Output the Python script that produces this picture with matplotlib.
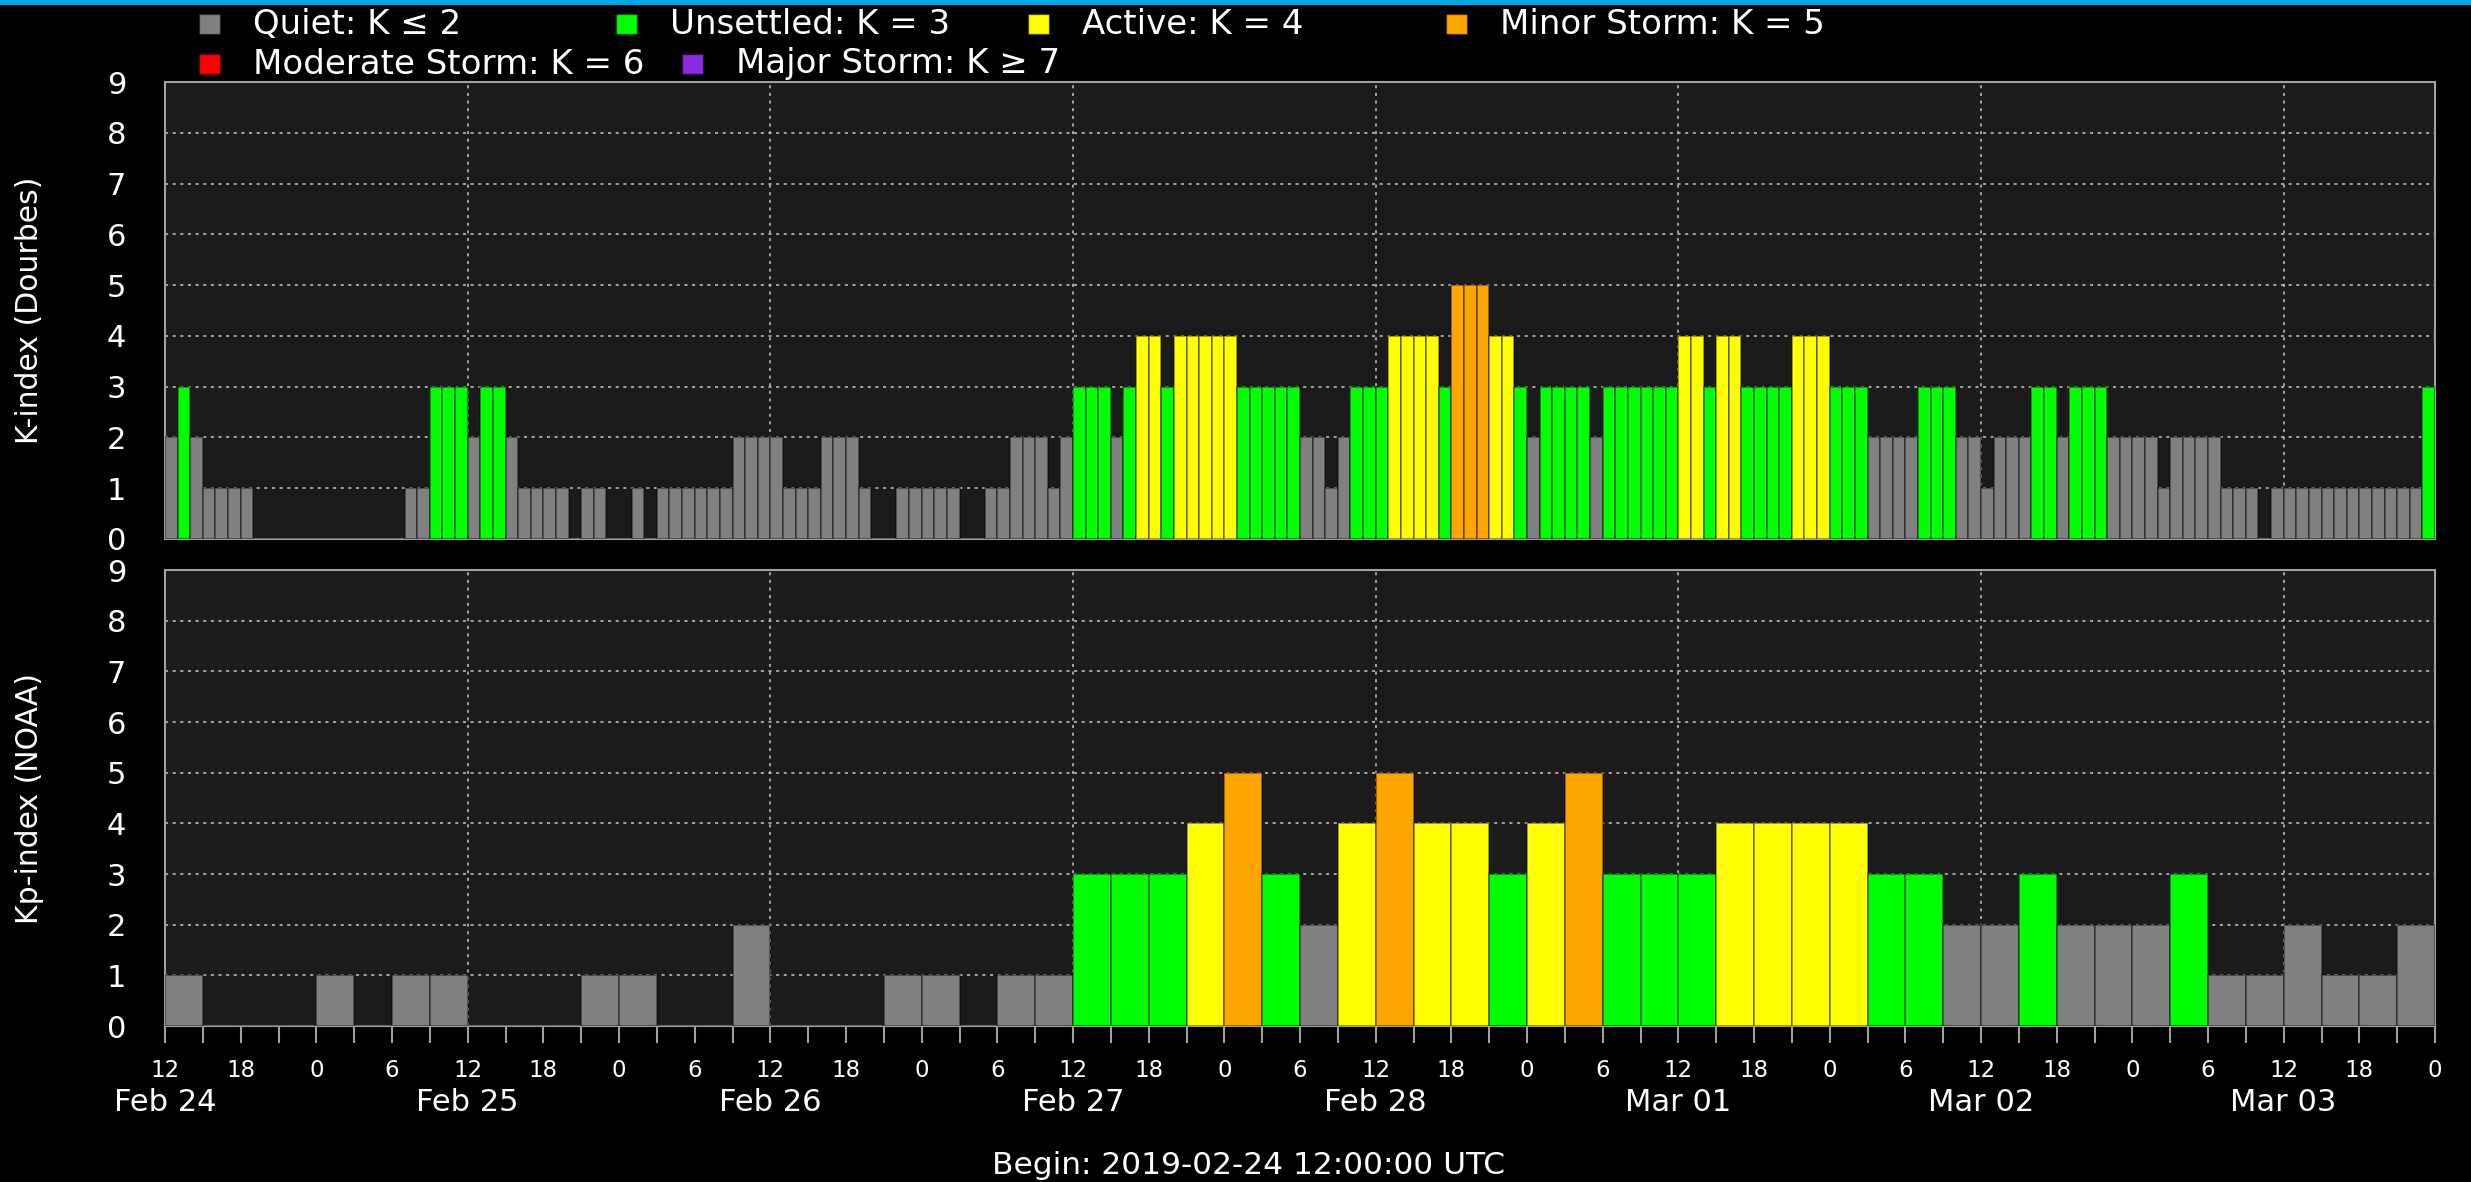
import numpy as np
import pandas as pd
import matplotlib
matplotlib.use("Agg")
import matplotlib.pyplot as plt
import matplotlib.dates as mdates
from matplotlib.patches import Rectangle

debut = pd.Timestamp("2019-02-24 12:00")

# K-index de Dourbes, une valeur par heure
k_dourbes = [
    2, 3, 2, 1, 1, 1, 1, 0, 0, 0, 0, 0,
    0, 0, 0, 0, 0, 0, 0, 1, 1, 3, 3, 3,
    2, 3, 3, 2, 1, 1, 1, 1, 0, 1, 1, 0,
    0, 1, 0, 1, 1, 1, 1, 1, 1, 2, 2, 2,
    2, 1, 1, 1, 2, 2, 2, 1, 0, 0, 1, 1,
    1, 1, 1, 0, 0, 1, 1, 2, 2, 2, 1, 2,
    3, 3, 3, 2, 3, 4, 4, 3, 4, 4, 4, 4,
    4, 3, 3, 3, 3, 3, 2, 2, 1, 2, 3, 3,
    3, 4, 4, 4, 4, 3, 5, 5, 5, 4, 4, 3,
    2, 3, 3, 3, 3, 2, 3, 3, 3, 3, 3, 3,
    4, 4, 3, 4, 4, 3, 3, 3, 3, 4, 4, 4,
    3, 3, 3, 2, 2, 2, 2, 3, 3, 3, 2, 2,
    1, 2, 2, 2, 3, 3, 2, 3, 3, 3, 2, 2,
    2, 2, 1, 2, 2, 2, 2, 1, 1, 1, 0, 1,
    1, 1, 1, 1, 1, 1, 1, 1, 1, 1, 1, 3,
]

# Kp-index NOAA, une valeur toutes les 3 heures
kp_noaa = [
    1, 0, 0, 0, 1, 0, 1, 1, 0, 0, 0, 1,
    1, 0, 0, 2, 0, 0, 0, 1, 1, 0, 1, 1,
    3, 3, 3, 4, 5, 3, 2, 4, 5, 4, 4, 3,
    4, 5, 3, 3, 3, 4, 4, 4, 4, 3, 3, 2,
    2, 3, 2, 2, 2, 3, 1, 1, 2, 1, 1, 2,
]

legende_textes = ["Quiet: K \u2264 2", "Unsettled: K = 3", "Active: K = 4",
                  "Minor Storm: K = 5", "Moderate Storm: K = 6", "Major Storm: K \u2265 7"]
legende_couleurs = ["#808080", "#00ff00", "#ffff00", "#ffa500", "#ff0000", "#8a2be2"]
y_labels = ["K-index (Dourbes)", "Kp-index (NOAA)"]
texte_debut = "Begin: 2019-02-24 12:00:00 UTC"


def couleur_k(k):
    if k <= 2:
        return legende_couleurs[0]
    if k >= 7:
        return legende_couleurs[5]
    return legende_couleurs[k - 2]


W, H = 2471, 1182
fig = plt.figure(figsize=(W / 100, H / 100), dpi=100, facecolor="black")

ax1 = fig.add_axes([165 / W, 1 - 539 / H, 2270 / W, 457 / H])
ax2 = fig.add_axes([165 / W, 1 - 1026 / H, 2270 / W, 456 / H])

fin = debut + pd.Timedelta(hours=180)
series = [(ax1, k_dourbes, "h", 1 / 24), (ax2, kp_noaa, "3h", 3 / 24)]

for ax, valeurs, freq, largeur in series:
    temps = pd.date_range(debut, periods=len(valeurs), freq=freq)
    ax.bar(temps, valeurs, width=largeur, align="edge",
           color=[couleur_k(v) for v in valeurs],
           edgecolor=(0, 0, 0, 0.45), linewidth=1.2, zorder=3)
    ax.set_facecolor("#1b1b1b")
    ax.set_xlim(debut, fin)
    ax.set_ylim(0, 9)
    ax.set_yticks(range(10))
    ax.tick_params(axis="y", length=0, pad=28, labelsize=22, colors="white")
    ax.grid(True, axis="y", color="#c8c8c8", linestyle=(0, (2, 3)), linewidth=1.1, zorder=1)
    ax.set_axisbelow(True)
    for s in ax.spines.values():
        s.set_color("#a0a0a0")
        s.set_linewidth(1.5)

ax1.tick_params(axis="x", length=0, labelbottom=False)

# axe du bas : graduations toutes les 3 heures, etiquettes toutes les 6 heures
ax2.xaxis.set_minor_locator(mdates.HourLocator(byhour=range(0, 24, 3)))
heures = pd.date_range(debut, fin, freq="6h")
ax2.set_xticks(heures, minor=False)
ax2.set_xticklabels([str(t.hour) for t in heures])
ax2.tick_params(axis="x", which="both", length=12, width=1.5, color="#a0a0a0",
                pad=12, labelsize=16.5, labelcolor="white")

# lignes verticales a 12h et etiquettes de jour
for t in pd.date_range(debut, fin, freq="24h"):
    ax1.axvline(t, color="#c8c8c8", linestyle=(0, (2, 3)), linewidth=1.1, zorder=1)
    ax2.axvline(t, color="#c8c8c8", linestyle=(0, (2, 3)), linewidth=1.1, zorder=1)
    ax2.annotate(t.strftime("%b %d"), xy=(t, 0), xycoords=("data", "axes fraction"),
                 xytext=(0, -55), textcoords="offset points", ha="center", va="center",
                 color="white", fontsize=22, annotation_clip=False)

for ax, lab in zip([ax1, ax2], y_labels):
    pos = ax.get_position()
    fig.text(30 / W, pos.y0 + pos.height / 2, lab, rotation=90, ha="center",
             va="center", color="white", fontsize=21.5)

# legende manuelle
positions = [(253, 24), (670, 24), (1082, 24), (1500, 24), (253, 64), (736, 64)]
for (x, y), txt, c in zip(positions, legende_textes, legende_couleurs):
    fig.patches.append(Rectangle(((x - 54) / W, 1 - (y + 10) / H), 21 / W, 20 / H,
                                 transform=fig.transFigure, facecolor=c,
                                 edgecolor=(0, 0, 0, 0.4), linewidth=1))
    fig.text(x / W, 1 - y / H, txt, ha="left", va="center", color="white", fontsize=24.5)

fig.patches.append(Rectangle((0, 1 - 5 / H), 1, 5 / H, transform=fig.transFigure,
                             facecolor="#00a9e6", edgecolor="none"))

fig.text(1249 / W, 1 - 1166 / H, texte_debut, ha="center", va="center",
         color="white", fontsize=22.5)

fig.savefig("out.png", dpi=100, facecolor="black")
